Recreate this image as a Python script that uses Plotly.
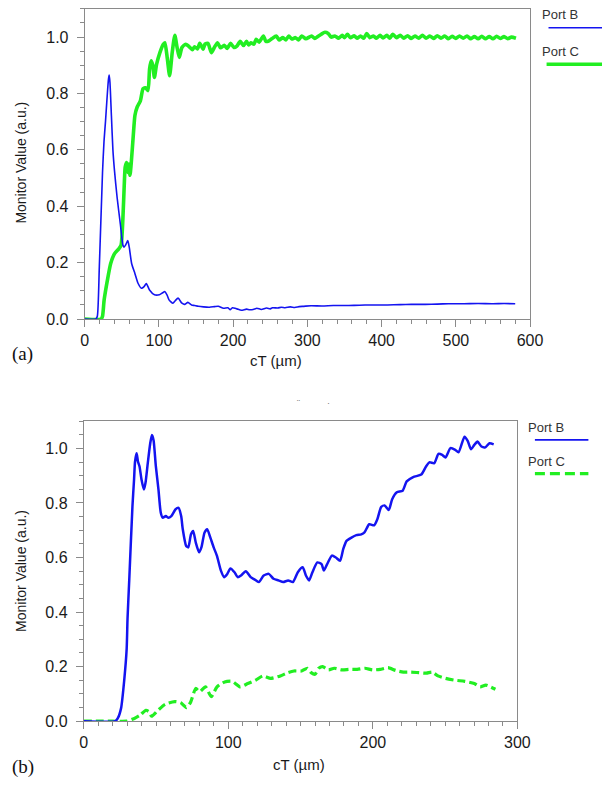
import plotly.graph_objects as go

# ---- panel (a): monitor values over cT (0-600 um) ----
a_portb_x = [0, 15, 17, 19.7, 24, 26, 28, 30, 32, 33, 34, 36, 38, 40, 43.7, 48, 51.5, 53, 55, 58,
             60, 63.3, 67.7, 72, 76.4, 80, 83, 87.3, 94, 100.5, 105, 108, 111, 113.6, 118.8, 122,
             125.8, 131, 135, 139, 144, 148, 153, 160, 168, 175, 180, 187, 193, 196, 199, 205,
             211, 218, 222, 227, 232, 238, 245, 250, 253, 260, 265, 270, 277, 283, 289, 295, 305,
             320, 335, 356, 370, 385, 408, 425, 440, 459, 475, 490, 511, 530, 550, 565, 580]
a_portb_y = [0, 0, 0.01, 0.185, 0.52, 0.63, 0.70, 0.78, 0.85, 0.865, 0.84, 0.72, 0.60, 0.53, 0.43,
             0.337, 0.262, 0.255, 0.262, 0.278, 0.255, 0.196, 0.161, 0.126, 0.109, 0.115, 0.126,
             0.103, 0.086, 0.086, 0.093, 0.097, 0.085, 0.068, 0.056, 0.065, 0.074, 0.056, 0.052,
             0.059, 0.05, 0.048, 0.045, 0.043, 0.042, 0.044, 0.045, 0.038, 0.040, 0.033, 0.040,
             0.036, 0.031, 0.035, 0.033, 0.034, 0.038, 0.034, 0.039, 0.036, 0.040, 0.039, 0.042,
             0.040, 0.043, 0.041, 0.044, 0.045, 0.047, 0.046, 0.048, 0.048, 0.049, 0.050, 0.050,
             0.051, 0.052, 0.052, 0.053, 0.054, 0.054, 0.055, 0.054, 0.055, 0.054]

a_portc_x = [0, 22, 24, 26.2, 30.6, 35, 40.2, 45.9, 48.9, 51.5, 53.3, 54.6, 56.5, 58, 59.5, 61,
             62.5, 65.5, 67.7, 70.7, 75.1, 78.6, 82, 85.2, 87.4, 89.5, 91.7, 93.9, 96.9, 101.3,
             105.7, 108, 111.4, 114.4, 117.9, 121.4, 124.5, 127.5, 131, 136, 142, 145, 148, 152,
             155, 159.6, 162, 166, 170.7, 175, 179, 183, 188, 192, 196.5, 201, 205, 209.5, 214,
             218, 221, 224, 228, 231, 235, 240.7, 244, 247, 252, 258, 262, 267, 271, 275, 279,
             284, 288, 292.5, 298, 305.6, 310, 314, 318.7, 323.6, 328, 332, 337, 342, 347, 350,
             354, 358, 363, 367, 371.6, 376, 380, 384, 389, 393, 398, 402, 407, 411, 415, 420,
             425, 430, 435, 440, 445, 450, 455, 460, 465, 470, 475, 480, 485, 490, 495, 500, 505,
             510, 515, 520, 525, 530, 535, 540, 545, 550, 555, 560, 565, 570, 575, 581]
a_portc_y = [0, 0, 0.01, 0.068, 0.138, 0.197, 0.232, 0.249, 0.261, 0.36, 0.477, 0.54, 0.555, 0.52,
             0.55, 0.51, 0.547, 0.653, 0.723, 0.752, 0.775, 0.817, 0.82, 0.81, 0.887, 0.916, 0.9,
             0.857, 0.904, 0.945, 0.974, 0.98, 0.922, 0.863, 0.945, 1.006, 0.963, 0.928, 0.963,
             0.974, 0.963, 0.955, 0.966, 0.958, 0.978, 0.957, 0.975, 0.978, 0.945, 0.965, 0.98,
             0.962, 0.971, 0.96, 0.978, 0.963, 0.968, 0.985, 0.970, 0.985, 0.972, 0.98, 0.975,
             0.992, 0.982, 1.004, 0.985, 0.985, 0.994, 1.004, 0.99, 0.998, 0.99, 1.004, 0.993,
             0.998, 0.99, 1.004, 0.994, 1.004, 0.995, 1.002, 1.01, 1.017, 1.013, 1.000, 1.004,
             0.996, 1.006, 0.998, 1.01, 0.998, 1.005, 0.996, 1.004, 0.996, 1.013, 0.998, 1.004,
             0.996, 1.006, 0.997, 1.006, 0.996, 1.01, 0.998, 1.006, 0.996, 1.005, 0.995, 1.004,
             0.996, 1.006, 0.996, 1.004, 0.995, 1.005, 0.996, 1.004, 0.994, 1.003, 0.995, 1.004,
             0.996, 1.004, 0.994, 1.002, 0.994, 1.003, 0.994, 1.002, 0.994, 1.003, 0.995, 1.002,
             0.994, 1.0, 0.996]

# ---- panel (b): monitor values over cT (0-300 um) ----
b_portb_x = [0, 21.8, 23.5, 25.8, 28, 29.7, 30.3, 31.5, 33.7, 34.8, 35.5, 36.6, 37.5, 38.6, 40,
             41.6, 42.7, 44.3, 46, 47.2, 48.3, 49.9, 51.7, 53.3, 54.6, 56.8, 58.4, 60.6, 63.4,
             65.6, 67.4, 68.5, 70.8, 72.3, 74.2, 75.7, 77.5, 79.8, 81.4, 83.6, 85.4, 87.6, 89.9,
             92.1, 94.9, 97.1, 99.3, 101.5, 104.3, 106.5, 108.8, 112.1, 115.5, 118, 121.1, 124.5,
             128, 131.3, 134.7, 138, 141.4, 144.7, 148.1, 151.5, 153.7, 155.9, 158.2, 161.6,
             164.5, 166.1, 168.4, 171.7, 174.4, 177.3, 179.5, 181.8, 185.2, 188.6, 192, 194.2,
             197.5, 200.9, 203.1, 205.8, 208.1, 211, 213.3, 216.6, 220.6, 223.4, 227.9, 233.5,
             236.8, 239.1, 242.5, 245.4, 248, 250.3, 253.7, 257, 259.3, 263.4, 265.6, 267.9,
             270.2, 272.4, 275.1, 277.8, 280.7, 283.6]
b_portb_y = [0, 0, 0.01, 0.047, 0.15, 0.265, 0.376, 0.52, 0.788, 0.885, 0.952, 0.982, 0.952,
             0.934, 0.885, 0.849, 0.873, 0.946, 1.019, 1.049, 1.03, 0.934, 0.849, 0.764, 0.746,
             0.752, 0.746, 0.752, 0.776, 0.782, 0.752, 0.704, 0.643, 0.637, 0.685, 0.697, 0.655,
             0.619, 0.637, 0.692, 0.704, 0.673, 0.637, 0.607, 0.552, 0.528, 0.54, 0.56, 0.546,
             0.528, 0.534, 0.55, 0.528, 0.52, 0.51, 0.534, 0.54, 0.522, 0.516, 0.51, 0.516, 0.51,
             0.546, 0.564, 0.534, 0.516, 0.546, 0.582, 0.576, 0.552, 0.576, 0.607, 0.6, 0.588,
             0.631, 0.661, 0.673, 0.682, 0.685, 0.692, 0.722, 0.718, 0.74, 0.786, 0.791, 0.774,
             0.813, 0.839, 0.845, 0.879, 0.895, 0.904, 0.934, 0.949, 0.946, 0.98, 0.976, 0.967,
             1.001, 0.995, 0.986, 1.043, 1.028, 0.997, 1.013, 1.025, 1.007, 1.004, 1.019, 1.015]

b_portc_x = [0, 10, 20, 29.7, 35, 39, 43, 45, 47, 51, 56.3, 63, 67, 71, 73.8, 77.5, 80.2, 84.2,
             88.2, 92.2, 97.5, 102.8, 108.1, 113.5, 118.8, 124, 129.3, 136, 141.3, 145.4, 150.7,
             154.7, 157.3, 160, 162.6, 165.3, 169.3, 173.3, 178.6, 183.9, 189.2, 194.5, 199.8,
             205.1, 210.5, 215.8, 221.1, 226.4, 231.7, 237, 241, 245, 250.3, 257, 263.6, 270.2,
             274.2, 278.2, 284.8]
b_portc_y = [0, 0, 0, 0, 0.01, 0.022, 0.04, 0.035, 0.018, 0.038, 0.062, 0.072, 0.068, 0.05,
             0.068, 0.12, 0.108, 0.126, 0.09, 0.126, 0.144, 0.146, 0.126, 0.138, 0.15, 0.166,
             0.157, 0.166, 0.178, 0.184, 0.184, 0.194, 0.178, 0.172, 0.194, 0.2, 0.188, 0.194,
             0.188, 0.19, 0.19, 0.194, 0.188, 0.19, 0.196, 0.186, 0.18, 0.18, 0.178, 0.176, 0.18,
             0.166, 0.157, 0.15, 0.146, 0.138, 0.126, 0.132, 0.117]

y_ticks = [0.0, 0.2, 0.4, 0.6, 0.8, 1.0]
y_tick_text = ["0.0", "0.2", "0.4", "0.6", "0.8", "1.0"]
series_names = ["Port B", "Port C"]

BLUE = "#1414f0"
GREEN = "#22ee22"
AXIS = "#8a8a8a"
TXT = "#1a1a1a"
SANS = "Liberation Sans, Arial, sans-serif"
SERIF = "Liberation Serif, Times New Roman, serif"

W, H = 615, 789


def px(x):
    return x / W


def py(y):
    return 1 - y / H


fig = go.Figure()

fig.add_trace(go.Scatter(x=a_portc_x, y=a_portc_y, mode="lines", name=series_names[1],
                         line=dict(color=GREEN, width=3.6, shape="spline", smoothing=0.6),
                         xaxis="x", yaxis="y", showlegend=False))
fig.add_trace(go.Scatter(x=a_portb_x, y=a_portb_y, mode="lines", name=series_names[0],
                         line=dict(color=BLUE, width=1.6, shape="spline", smoothing=0.6),
                         xaxis="x", yaxis="y", showlegend=False))
fig.add_trace(go.Scatter(x=b_portc_x, y=b_portc_y, mode="lines", name=series_names[1],
                         line=dict(color=GREEN, width=3.2, dash="8px,4px", shape="spline",
                                   smoothing=0.6),
                         xaxis="x2", yaxis="y2", showlegend=False))
fig.add_trace(go.Scatter(x=b_portb_x, y=b_portb_y, mode="lines", name=series_names[0],
                         line=dict(color=BLUE, width=2.5, shape="spline", smoothing=0.6),
                         xaxis="x2", yaxis="y2", showlegend=False))

common_axis = dict(showline=True, linecolor=AXIS, linewidth=1, mirror=True, showgrid=False,
                   zeroline=False, ticks="outside", ticklen=7, tickwidth=1, tickcolor=AXIS,
                   tickfont=dict(family=SANS, size=16, color=TXT))

fig.update_layout(
    width=W, height=H, margin=dict(l=0, r=0, t=0, b=0),
    paper_bgcolor="white", plot_bgcolor="white",
    xaxis=dict(domain=[px(83), px(541)], range=[0, 600], dtick=100, anchor="y",
               minor=dict(dtick=20, ticklen=4, ticks="outside", tickcolor=AXIS),
               **common_axis),
    yaxis=dict(domain=[py(322.7), py(9)], range=[0, 1.1], tickvals=y_ticks,
               ticktext=y_tick_text, anchor="x", ticklabelstandoff=5,
               minor=dict(dtick=0.05, ticklen=4, ticks="outside", tickcolor=AXIS),
               **common_axis),
    xaxis2=dict(domain=[px(82), px(528)], range=[0, 300], dtick=100, anchor="y2",
                minor=dict(dtick=10, ticklen=4, ticks="outside", tickcolor=AXIS),
                **common_axis),
    yaxis2=dict(domain=[py(729.5), py(426)], range=[0, 1.1], tickvals=y_ticks,
                ticktext=y_tick_text, anchor="x2", ticklabelstandoff=5,
                minor=dict(dtick=0.05, ticklen=4, ticks="outside", tickcolor=AXIS),
                **common_axis),
)

annotations = [
    # axis titles
    dict(x=px(280), y=py(365), text="cT (\u00b5m)", font=dict(family=SANS, size=15, color=TXT)),
    dict(x=px(303), y=py(773), text="cT (\u00b5m)", font=dict(family=SANS, size=15, color=TXT)),
    dict(x=px(18), y=py(165), text="Monitor Value (a.u.)", textangle=-90,
         font=dict(family=SANS, size=14, color=TXT)),
    dict(x=px(18), y=py(578), text="Monitor Value (a.u.)", textangle=-90,
         font=dict(family=SANS, size=14, color=TXT)),
    # panel labels
    dict(x=px(6), y=py(358), text="(a)", xanchor="left",
         font=dict(family=SERIF, size=19, color="#111111")),
    dict(x=px(6), y=py(776), text="(b)", xanchor="left",
         font=dict(family=SERIF, size=19, color="#111111")),
    # legend labels
    dict(x=px(551), y=py(15), text=series_names[0], xanchor="left",
         font=dict(family=SANS, size=13, color="#333333")),
    dict(x=px(551), y=py(52), text=series_names[1], xanchor="left",
         font=dict(family=SANS, size=13, color="#333333")),
    dict(x=px(537), y=py(432), text=series_names[0], xanchor="left",
         font=dict(family=SANS, size=13, color="#333333")),
    dict(x=px(537), y=py(467), text=series_names[1], xanchor="left",
         font=dict(family=SANS, size=13, color="#333333")),
    # faint marks between the panels
    dict(x=px(303), y=py(408), text="\u00a8", font=dict(family=SANS, size=9, color="#777777")),
    dict(x=px(334), y=py(408), text="\u00b7", font=dict(family=SANS, size=9, color="#777777")),
]
for a in annotations:
    a.update(xref="paper", yref="paper", showarrow=False, yanchor="middle")
    a.setdefault("xanchor", "center")
fig.update_layout(annotations=annotations)

# legend line samples
fig.add_shape(type="line", xref="paper", yref="paper", x0=px(560), x1=px(615), y0=py(28),
              y1=py(28), line=dict(color=BLUE, width=1.6))
fig.add_shape(type="line", xref="paper", yref="paper", x0=px(558), x1=px(615), y0=py(65),
              y1=py(65), line=dict(color=GREEN, width=3.6))
fig.add_shape(type="line", xref="paper", yref="paper", x0=px(546), x1=px(601), y0=py(445),
              y1=py(445), line=dict(color=BLUE, width=1.8))
fig.add_shape(type="line", xref="paper", yref="paper", x0=px(546), x1=px(601), y0=py(479),
              y1=py(479), line=dict(color=GREEN, width=3.2, dash="10px,5px"))

fig.write_html("out.html")
